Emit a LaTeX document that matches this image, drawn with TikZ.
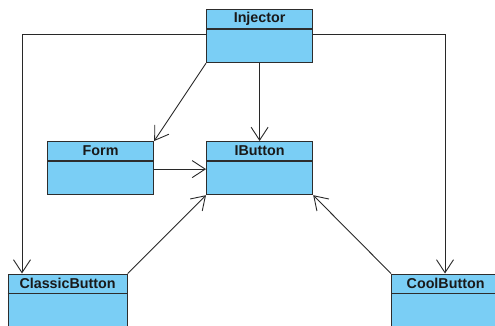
\documentclass[tikz,border=0pt]{standalone}
\usepackage{fontspec}
\setmainfont{Liberation Sans}
\usetikzlibrary{arrows.meta}
\definecolor{clsfill}{RGB}{122,206,245}
\definecolor{clsline}{RGB}{45,45,45}
\definecolor{conn}{RGB}{40,40,40}
\tikzset{
  cls/.style={draw=clsline, fill=clsfill, line width=1.2pt, rectangle, anchor=north west, inner sep=0pt},
  sep/.style={draw=clsline, line width=1.2pt},
  lbl/.style={font=\fontsize{14.3}{16}\selectfont\bfseries, text=black!90, inner sep=0pt},
  dep/.style={draw=conn, line width=0.9pt, -{Straight Barb[length=13pt,width=17pt,line width=0.9pt]}}
}
\begin{document}
\begin{tikzpicture}[x=1pt,y=-1pt]
\useasboundingbox (0,0) rectangle (495,325);
\clip (0,0) rectangle (495,325);
% Injector
\node[cls, minimum width=106pt, minimum height=53pt] (inj) at (206,9) {};
\draw[sep] ([yshift=-20pt]inj.north west) -- ([yshift=-20pt]inj.north east);
\node[lbl] (injl) at ([yshift=-10pt]inj.north) {Injector};
% Form
\node[cls, minimum width=106pt, minimum height=53pt] (form) at (47,141) {};
\draw[sep] ([yshift=-20pt]form.north west) -- ([yshift=-20pt]form.north east);
\node[lbl] (forml) at ([yshift=-10pt]form.north) {Form};
% IButton
\node[cls, minimum width=106pt, minimum height=53pt] (ib) at (206,141) {};
\draw[sep] ([yshift=-20pt]ib.north west) -- ([yshift=-20pt]ib.north east);
\node[lbl] (ibl) at ([yshift=-10pt]ib.north) {IButton};
% ClassicButton
\node[cls, minimum width=119pt, minimum height=70pt] (cb) at (7.5,273.5) {};
\draw[sep] ([yshift=-20pt]cb.north west) -- ([yshift=-20pt]cb.north east);
\node[lbl] (cbl) at ([yshift=-10pt]cb.north) {ClassicButton};
% CoolButton
\node[cls, minimum width=108pt, minimum height=70pt] (cool) at (391,273.5) {};
\draw[sep] ([yshift=-20pt]cool.north west) -- ([yshift=-20pt]cool.north east);
\node[lbl] (cooll) at ([yshift=-10pt]cool.north) {CoolButton};
% connectors
\draw[dep] ([yshift=1.5pt]inj.west) -| ([xshift=14.5pt]cb.north west);
\draw[dep] ([yshift=1.5pt]inj.east) -| ([xshift=54pt]cool.north west);
\draw[dep] (inj.south west) -- (form.north east);
\draw[dep] (inj.south) -- (ib.north);
\draw[dep] ([yshift=-1pt]form.east) -- ([yshift=-1pt]ib.west);
\draw[dep] (cb.north east) -- (ib.south west);
\draw[dep] (cool.north west) -- (ib.south east);
\end{tikzpicture}
\end{document}
